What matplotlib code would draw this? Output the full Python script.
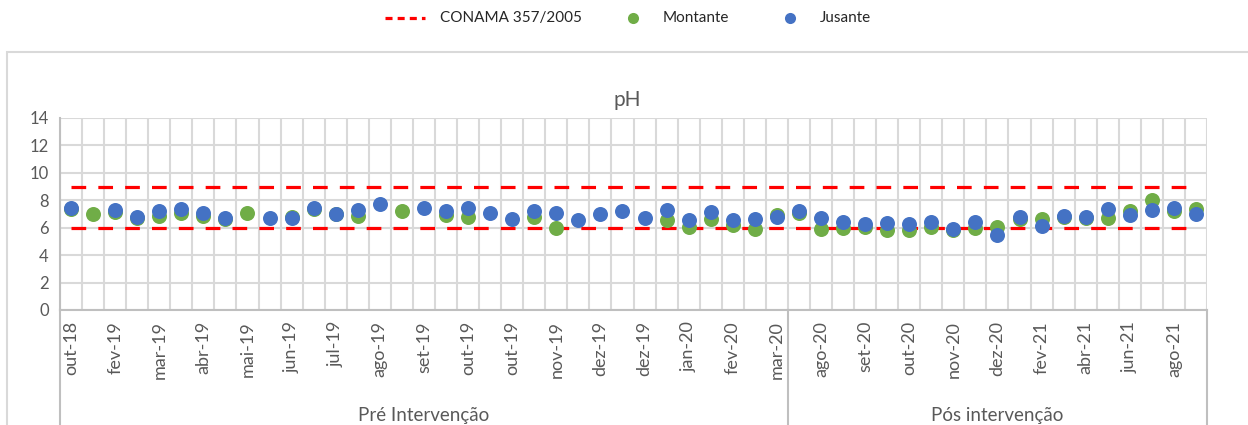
import numpy as np
import matplotlib
matplotlib.use("Agg")
import matplotlib.pyplot as plt
from matplotlib.lines import Line2D
from matplotlib.patches import Rectangle

plt.rcParams['font.family'] = ['Lato', 'DejaVu Sans']

nan = np.nan
# 52 sampling campaigns; labels shown on every second category
tick_labels = ["out-18", "", "fev-19", "", "mar-19", "", "abr-19", "", "mai-19", "",
               "jun-19", "", "jul-19", "", "ago-19", "", "set-19", "", "out-19", "",
               "out-19", "", "nov-19", "", "dez-19", "", "dez-19", "", "jan-20", "",
               "fev-20", "", "mar-20", "",
               "ago-20", "", "set-20", "", "out-20", "", "nov-20", "", "dez-20", "",
               "fev-21", "", "abr-21", "", "jun-21", "", "ago-21", ""]
groups = ["Pré Intervenção", "Pós intervenção"]
group_sizes = [33, 19]

montante = [7.40, 6.98, 7.15, 6.70, 6.83, 7.10, 6.83, 6.60, 7.10, nan,
            6.80, 7.35, 6.98, 6.83, nan, 7.22, nan, 6.95, 6.78, nan,
            nan, 6.78, 6.00, nan, nan, nan, nan, 6.54, 6.05, 6.66,
            6.22, 5.93, 6.90, 7.10, 5.93, 5.98, 6.05, 5.85, 5.85, 6.05,
            5.80, 6.00, 6.05, 6.66, 6.66, 6.78, 6.71, 6.71, 7.20, 8.05,
            7.20, 7.39]
jusante = [7.45, nan, 7.27, 6.78, 7.20, 7.37, 7.07, 6.68, nan, 6.68,
           6.73, 7.44, 7.02, 7.32, 7.71, nan, 7.46, 7.20, 7.44, 7.07,
           6.63, 7.22, 7.07, 6.59, 7.00, 7.20, 6.71, 7.32, 6.54, 7.15,
           6.54, 6.63, 6.78, 7.20, 6.71, 6.41, 6.29, 6.34, 6.29, 6.44,
           5.93, 6.41, 5.49, 6.78, 6.12, 6.85, 6.78, 7.34, 6.90, 7.27,
           7.44, 6.98]
conama_min = 6
conama_max = 9
series_names = ["CONAMA 357/2005", "Montante", "Jusante"]

W, H = 1248, 425
fig = plt.figure(figsize=(W / 100, H / 100), dpi=100)

# chart border (cropped on right/bottom)
fig.patches.append(Rectangle((7 / W, -0.1), 1.2, 1 - 52 / H + 0.1, transform=fig.transFigure,
                             fill=False, edgecolor='#d9d9d9', linewidth=1.5))

L, R, T, B = 60, 1207, 118, 310
ax = fig.add_axes([L / W, 1 - B / H, (R - L) / W, (B - T) / H])

n = len(montante)
x = np.arange(n)
grid_c = '#d9d9d9'
text_c = '#595959'
red, green, blue = '#ff0000', '#70ad47', '#4472c4'

ax.plot([0, n - 1], [conama_max] * 2, color=red, lw=2.3, dashes=(4.6, 3.8), zorder=2)
ax.plot([0, n - 1], [conama_min] * 2, color=red, lw=2.3, dashes=(4.6, 3.8), zorder=2)
ax.plot(x, montante, 'o', color=green, markersize=10.8, markeredgewidth=0, zorder=3)
ax.plot(x, jusante, 'o', color=blue, markersize=10.8, markeredgewidth=0, zorder=4)

ax.set_xlim(-0.5, n - 0.5)
ax.set_ylim(0, 14)
ax.set_yticks(np.arange(0, 15, 2))
ax.set_xticks(x)
ax.set_xticklabels(tick_labels, rotation=90, fontsize=13, color=text_c)
ax.set_xticks(np.arange(-0.5, n, 1), minor=True)
ax.tick_params(axis='x', which='both', length=0, pad=8)
ax.tick_params(axis='y', length=0, labelsize=12, labelcolor=text_c, pad=8)
ax.grid(True, which='major', axis='y', color=grid_c, lw=1.5)
ax.grid(True, which='minor', axis='x', color=grid_c, lw=1.5)
ax.set_axisbelow(True)
for s in ['top', 'right']:
    ax.spines[s].set_visible(False)
for s in ['left', 'bottom']:
    ax.spines[s].set_color('#bfbfbf')
    ax.spines[s].set_linewidth(1.5)

# group separators and labels
ext = -(H - B + 5) / (B - T)
bounds = np.concatenate([[0], np.cumsum(group_sizes)]) - 0.5
for b in bounds:
    ax.plot([b, b], [0, ext], transform=ax.get_xaxis_transform(), color='#bfbfbf',
            lw=1.5, clip_on=False)
for g, a, b in zip(groups, bounds[:-1], bounds[1:]):
    ax.text((a + b) / 2, -(415 - B) / (B - T), g, transform=ax.get_xaxis_transform(),
            ha='center', va='center', fontsize=13.5, color=text_c)

fig.text(627 / W, 1 - 100 / H, "pH", ha='center', va='center', fontsize=15, color=text_c)

# legend (manual placement)
ly = 1 - 18 / H
fig.lines.append(Line2D([385 / W, 425 / W], [ly, ly], transform=fig.transFigure,
                        color=red, lw=2.3, dashes=(2.2, 1.6)))
fig.lines.append(Line2D([633 / W], [ly], transform=fig.transFigure, marker='o', ls='',
                        color=green, markersize=8, markeredgewidth=0))
fig.lines.append(Line2D([790 / W], [ly], transform=fig.transFigure, marker='o', ls='',
                        color=blue, markersize=8, markeredgewidth=0))
for xp, name in zip([440, 663, 820], series_names):
    fig.text(xp / W, ly, name, ha='left', va='center', fontsize=11, color='#262626')

fig.savefig("out.png", dpi=100)
